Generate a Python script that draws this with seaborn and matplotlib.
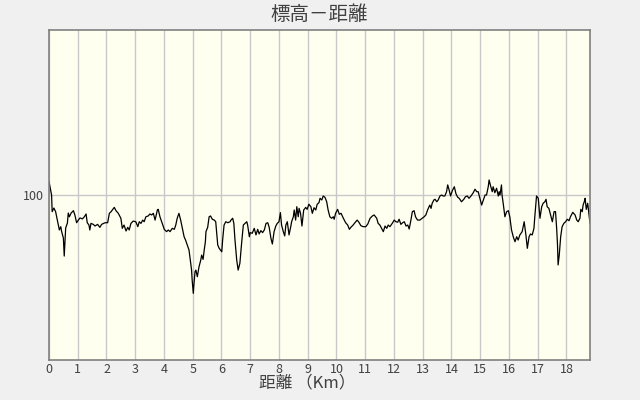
import matplotlib
matplotlib.use("Agg")
import matplotlib.pyplot as plt
import seaborn as sns
import pandas as pd

distance_km = [
    0.0, 0.09, 0.11, 0.17, 0.23, 0.30, 0.36, 0.41, 0.44, 0.50, 0.53, 0.58, 0.64, 0.67, 0.71, 0.77, 0.85, 0.90, 0.96,
    1.02, 1.08, 1.16, 1.23, 1.29, 1.33, 1.39, 1.42, 1.46, 1.54, 1.60, 1.69, 1.77, 1.83, 1.95,
    2.04, 2.10, 2.16, 2.22, 2.27, 2.33, 2.41, 2.50, 2.55, 2.61, 2.68, 2.74, 2.79, 2.85, 2.93,
    3.02, 3.09, 3.14, 3.20, 3.26, 3.31, 3.37, 3.45, 3.51, 3.57, 3.63, 3.69, 3.77, 3.80, 3.86, 3.94,
    4.01, 4.09, 4.15, 4.21, 4.29, 4.36, 4.41, 4.46, 4.52, 4.58, 4.64, 4.70, 4.75, 4.81, 4.87, 4.90, 4.96, 4.98,
    5.02, 5.04, 5.08, 5.11, 5.16, 5.22, 5.28, 5.31, 5.36, 5.40, 5.44, 5.46, 5.52, 5.57, 5.62, 5.68, 5.75, 5.80, 5.83, 5.87, 5.92,
    6.01, 6.04, 6.09, 6.15, 6.22, 6.30, 6.33, 6.39, 6.43, 6.47, 6.53, 6.58, 6.64, 6.70, 6.76, 6.82, 6.88, 6.91, 6.97,
    7.00, 7.07, 7.14, 7.20, 7.26, 7.31, 7.37, 7.43, 7.49, 7.55, 7.61, 7.66, 7.72, 7.77, 7.83, 7.89, 7.94,
    8.00, 8.05, 8.09, 8.15, 8.20, 8.24, 8.29, 8.35, 8.41, 8.44, 8.50, 8.53, 8.58, 8.62, 8.67, 8.70, 8.75, 8.80, 8.86, 8.93, 8.98,
    9.04, 9.11, 9.16, 9.22, 9.28, 9.33, 9.39, 9.43, 9.49, 9.54, 9.60, 9.66, 9.71, 9.77, 9.83, 9.89, 9.92, 9.97,
    10.04, 10.10, 10.16, 10.24, 10.32, 10.39, 10.45, 10.50, 10.58, 10.67, 10.72, 10.78, 10.85, 10.93,
    11.02, 11.09, 11.17, 11.25, 11.31, 11.40, 11.45, 11.51, 11.57, 11.63, 11.69, 11.75, 11.80, 11.86, 11.94,
    12.01, 12.07, 12.13, 12.18, 12.24, 12.30, 12.36, 12.42, 12.48, 12.53, 12.59, 12.64, 12.70, 12.75, 12.82, 12.90, 12.98,
    13.05, 13.11, 13.17, 13.22, 13.25, 13.29, 13.33, 13.39, 13.43, 13.49, 13.54, 13.60, 13.66, 13.71, 13.77, 13.83, 13.87, 13.92, 13.97,
    14.03, 14.10, 14.16, 14.22, 14.27, 14.35, 14.43, 14.49, 14.55, 14.61, 14.68, 14.76, 14.82, 14.88, 14.93, 14.99,
    15.05, 15.11, 15.17, 15.22, 15.28, 15.31, 15.37, 15.42, 15.45, 15.51, 15.57, 15.63, 15.66, 15.69, 15.74, 15.76, 15.80, 15.86, 15.92, 15.98,
    16.03, 16.09, 16.15, 16.21, 16.27, 16.32, 16.38, 16.46, 16.53, 16.59, 16.64, 16.70, 16.75, 16.81, 16.87, 16.90, 16.96,
    17.02, 17.08, 17.14, 17.19, 17.25, 17.29, 17.33, 17.39, 17.45, 17.51, 17.57, 17.62, 17.66, 17.69, 17.71, 17.75, 17.80, 17.85, 17.91, 17.97,
    18.03, 18.09, 18.14, 18.22, 18.30, 18.36, 18.41, 18.47, 18.50, 18.55, 18.58, 18.62, 18.65, 18.69, 18.74, 18.78, 18.82,
]

elevation_m = [
    108.1, 100.0, 89.9, 92.1, 89.9, 83.8, 78.8, 80.8, 77.8, 73.9, 63.0, 80.0, 83.0, 89.1, 86.8, 89.1, 90.5, 87.9, 83.2,
    84.8, 86.1, 85.5, 86.8, 88.5, 83.2, 81.8, 78.8, 82.8, 82.2, 81.2, 82.2, 80.4, 82.2, 83.2,
    83.2, 88.9, 89.9, 91.3, 92.5, 90.5, 88.9, 85.9, 79.8, 81.8, 78.2, 80.4, 78.8, 82.8, 84.2,
    83.8, 80.8, 83.8, 82.8, 84.8, 83.8, 86.8, 87.3, 88.5, 87.9, 88.9, 84.8, 90.9, 91.3, 86.8, 82.8,
    79.2, 77.8, 78.8, 77.8, 79.8, 79.2, 81.8, 85.9, 88.9, 84.8, 79.8, 74.7, 72.7, 69.7, 66.7, 62.6, 54.5, 48.5,
    40.4, 45.5, 53.5, 54.5, 50.5, 56.6, 60.6, 63.6, 61.0, 66.7, 71.7, 77.8, 80.4, 86.8, 87.3, 85.3, 84.8, 83.8, 77.8, 69.7, 67.7,
    65.6, 72.7, 81.8, 83.8, 83.2, 83.8, 84.8, 85.9, 82.8, 72.7, 60.6, 54.5, 58.6, 70.7, 81.8, 82.8, 83.8, 81.8, 74.7,
    77.2, 76.8, 79.8, 75.8, 79.2, 76.4, 78.4, 77.2, 78.8, 82.8, 83.2, 80.4, 73.8, 70.3, 77.8, 81.2, 82.8,
    83.8, 89.3, 81.8, 77.8, 75.2, 81.8, 83.8, 75.8, 80.8, 83.8, 86.8, 90.9, 84.8, 92.9, 86.8, 91.9, 88.9, 81.2, 90.9, 92.5, 91.3,
    94.4, 92.9, 88.9, 92.3, 90.9, 94.4, 95.3, 98.0, 97.0, 99.4, 98.6, 95.9, 90.9, 86.8, 85.9, 86.8, 85.3, 88.9,
    91.3, 88.3, 88.9, 85.9, 83.2, 81.8, 79.2, 80.4, 81.8, 83.8, 84.8, 83.5, 81.4, 80.8,
    80.8, 82.4, 85.9, 87.3, 87.9, 85.9, 82.8, 81.8, 79.8, 77.8, 81.2, 79.8, 81.8, 80.8, 82.8,
    84.8, 83.8, 83.5, 85.3, 82.2, 83.2, 83.8, 81.2, 81.8, 79.4, 84.8, 89.9, 90.5, 86.8, 84.8, 84.8, 85.9,
    86.8, 87.9, 90.9, 92.9, 93.9, 91.9, 95.0, 97.0, 97.4, 95.9, 97.0, 99.4, 100.0, 99.4, 99.4, 102.0, 106.1, 103.0, 99.4,
    102.6, 105.0, 100.6, 98.6, 98.0, 95.9, 97.4, 99.0, 99.4, 98.0, 99.4, 101.4, 103.5, 102.0, 102.0, 98.0,
    93.9, 97.0, 100.0, 100.0, 105.0, 109.1, 105.0, 102.0, 105.0, 101.4, 104.1, 99.4, 102.0, 100.0, 106.1, 100.0, 95.0, 86.8, 89.9, 90.5,
    86.8, 78.8, 74.7, 71.7, 74.7, 72.7, 75.8, 77.8, 83.8, 75.8, 67.7, 74.7, 76.4, 75.8, 79.8, 86.8, 99.4,
    98.0, 85.9, 92.9, 95.0, 95.9, 97.4, 92.9, 91.9, 87.9, 83.8, 89.9, 89.9, 79.8, 69.7, 57.6, 63.6, 74.7, 80.8, 82.8, 83.8,
    85.3, 84.4, 86.8, 89.5, 87.9, 84.8, 83.8, 85.9, 91.3, 89.9, 93.9, 95.9, 98.0, 91.3, 95.0, 88.9, 82.8,
]

x_ticks = list(range(0, 19))
y_ticks = [100]
title_text = "標高－距離"
xlabel_text = "距離 （Km）"

sns.set_theme(style="white")
plt.rcParams['font.family'] = ['Noto Sans CJK JP', 'DejaVu Sans']

df = pd.DataFrame({"distance": distance_km, "elevation": elevation_m})

fig = plt.figure(figsize=(6.4, 4.0), dpi=100, facecolor="#f0f0f0")
ax = fig.add_axes([49 / 640, 1 - 360 / 400, (590 - 49) / 640, (360 - 30) / 400])
ax.set_facecolor("#fffff0")

sns.lineplot(data=df, x="distance", y="elevation", ax=ax, color="black",
             linewidth=0.9, sort=False, estimator=None)

ax.set_xlim(0, 18.82)
ax.set_ylim(0, 200)
ax.set_xticks(x_ticks)
ax.set_yticks(y_ticks)
ax.set_xticklabels([str(t) for t in x_ticks])
ax.set_yticklabels([str(t) for t in y_ticks])
ax.grid(True, color="#c8c8c8", linewidth=1.0)
ax.set_axisbelow(True)
ax.tick_params(axis="x", length=0, labelsize=9, colors="#404040", pad=2)
ax.tick_params(axis="y", length=0, labelsize=9, colors="#404040", pad=4)
for s in ax.spines.values():
    s.set_color("#808080")
    s.set_linewidth(1.2)

ax.set_xlabel("")
ax.set_ylabel("")
fig.text(307 / 640, 1 - 383 / 400, xlabel_text, ha="center", va="center",
         fontsize=12, color="#404040")
fig.text((49 + 590) / 2 / 640, 1 - 14 / 400, title_text, ha="center", va="center",
         fontsize=14, color="#404040")

fig.savefig("out.png", dpi=100, facecolor=fig.get_facecolor())
